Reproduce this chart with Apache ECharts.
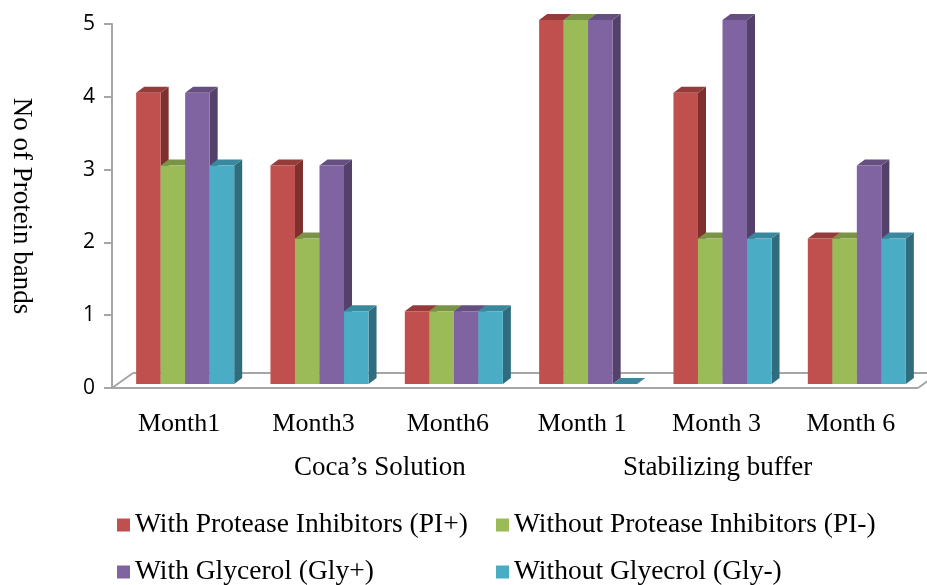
<!DOCTYPE html>
<html>
<head>
<meta charset="utf-8">
<script src="https://cdn.jsdelivr.net/npm/echarts@6/dist/echarts.min.js"></script>
<style>
  html, body { margin: 0; padding: 0; background: #fff; }
  #chart { width: 927px; height: 585px; }
</style>
</head>
<body>
<div id="chart"></div>
<script>
const categories = ['Month1', 'Month3', 'Month6', 'Month 1', 'Month 3', 'Month 6']
const groupLabels = ['Coca\u2019s Solution', 'Stabilizing buffer']
const yTicks = [0, 1, 2, 3, 4, 5]

const piPlus = [4, 3, 1, 5, 4, 2]
const piMinus = [3, 2, 1, 5, 2, 2]
const glyPlus = [4, 3, 1, 5, 5, 3]
const glyMinus = [3, 1, 1, 0, 2, 2]

const seriesNames = [
  'With Protease Inhibitors (PI+)',
  'Without Protease Inhibitors (PI-)',
  'With Glycerol (Gly+)',
  'Without Glyecrol (Gly-)',
]
const seriesData = [piPlus, piMinus, glyPlus, glyMinus]

// front / top / side shades, excel 2007 style
const palette = [
  { front: '#C0504D', top: '#953B39', side: '#7D302E' },
  { front: '#9BBB59', top: '#7A9446', side: '#657B39' },
  { front: '#8064A2', top: '#654F80', side: '#534169' },
  { front: '#4BACC6', top: '#3A889D', side: '#2F6D7E' },
]

const serif = '"Liberation Serif", "Times New Roman", serif'
const BAR_FRAC = 0.73
const SHIFT_X = 6
const SHIFT_Y = -4
const DX = 8
const DY = -6

const chart = echarts.init(document.getElementById('chart'))

const barSeries = seriesData.map((vals, s) => ({
  type: 'custom',
  name: seriesNames[s],
  itemStyle: { color: palette[s].front },
  clip: false,
  z: 3,
  data: vals.map((v, i) => [i, v]),
  renderItem: (params, api) => {
    const idx = api.value(0)
    const top = api.coord([idx, api.value(1)])
    const base = api.coord([idx, 0])
    const barW = api.size([1, 0])[0] * BAR_FRAC / 4
    const x0 = top[0] - 2 * barW + s * barW + SHIFT_X
    const x1 = x0 + barW
    const yT = top[1] + SHIFT_Y
    const yB = base[1] + SHIFT_Y
    const c = palette[s]
    return {
      type: 'group',
      children: [
        {
          type: 'polygon',
          shape: { points: [[x1, yT], [x1 + DX, yT + DY], [x1 + DX, yB + DY], [x1, yB]] },
          style: { fill: c.side },
        },
        {
          type: 'polygon',
          shape: { points: [[x0, yT], [x0 + DX, yT + DY], [x1 + DX, yT + DY], [x1, yT]] },
          style: { fill: c.top },
        },
        {
          type: 'rect',
          shape: { x: x0, y: yT, width: barW, height: yB - yT },
          style: { fill: c.front },
        },
      ],
    }
  },
}))

const floorSeries = {
  type: 'custom',
  name: 'floor',
  silent: true,
  clip: false,
  z: 1,
  data: [[0, 0]],
  renderItem: (params, api) => {
    const g = params.coordSys
    const l = g.x, r = g.x + g.width, b = g.y + g.height
    const fx = 21, fy = -15
    const line = { stroke: '#A6A6A6', lineWidth: 2, fill: null }
    return {
      type: 'group',
      children: [
        {
          type: 'polygon',
          shape: { points: [[l, b], [l + fx, b + fy], [r + fx, b + fy], [r, b]] },
          style: { fill: '#fff', stroke: null },
        },
        { type: 'line', shape: { x1: l, y1: b, x2: r, y2: b }, style: line },
        { type: 'line', shape: { x1: l + fx, y1: b + fy, x2: r + fx, y2: b + fy }, style: line },
        { type: 'line', shape: { x1: l, y1: b, x2: l + fx, y2: b + fy }, style: line },
        { type: 'line', shape: { x1: r, y1: b, x2: r + fx, y2: b + fy }, style: line },
      ],
    }
  },
}

// one legend per entry so the 2x2 layout lines up like the original
const legendSpots = [[117, 511], [496, 511], [117, 558], [496, 558]]
const legends = seriesNames.map((name, i) => ({
  data: [name],
  left: legendSpots[i][0],
  top: legendSpots[i][1],
  itemWidth: 13,
  itemHeight: 13,
  itemGap: 0,
  padding: 0,
  icon: 'rect',
  textStyle: { color: '#000', fontFamily: serif, fontSize: 27.5, padding: [0, 0, 0, 0] },
}))

chart.setOption({
  animation: false,
  backgroundColor: '#fff',
  grid: { left: 112, right: 9, top: 24, bottom: 197, containLabel: false },
  xAxis: {
    type: 'category',
    data: categories,
    boundaryGap: true,
    axisLine: { show: false },
    axisTick: { show: false },
    axisLabel: { color: '#000', fontFamily: serif, fontSize: 26, margin: 23 },
  },
  yAxis: {
    type: 'value',
    min: yTicks[0],
    max: yTicks[yTicks.length - 1],
    interval: 1,
    name: 'No of Protein bands',
    nameLocation: 'middle',
    nameRotate: -90,
    nameGap: 77,
    nameTextStyle: { color: '#000', fontFamily: serif, fontSize: 27 },
    axisLine: { show: true, lineStyle: { color: '#A6A6A6', width: 2 } },
    axisTick: { show: true, length: 8, lineStyle: { color: '#A6A6A6', width: 2 } },
    splitLine: { show: false },
    axisLabel: { color: '#000', fontFamily: '"Open Sans", "Liberation Sans", sans-serif', fontSize: 21, margin: 17 },
  },
  legend: legends,
  graphic: [
    {
      type: 'text',
      left: 294,
      top: 454,
      style: { text: groupLabels[0], fill: '#000', font: '27px ' + serif },
    },
    {
      type: 'text',
      left: 623,
      top: 454,
      style: { text: groupLabels[1], fill: '#000', font: '27px ' + serif },
    },
  ],
  series: [floorSeries, ...barSeries],
})
</script>
</body>
</html>
